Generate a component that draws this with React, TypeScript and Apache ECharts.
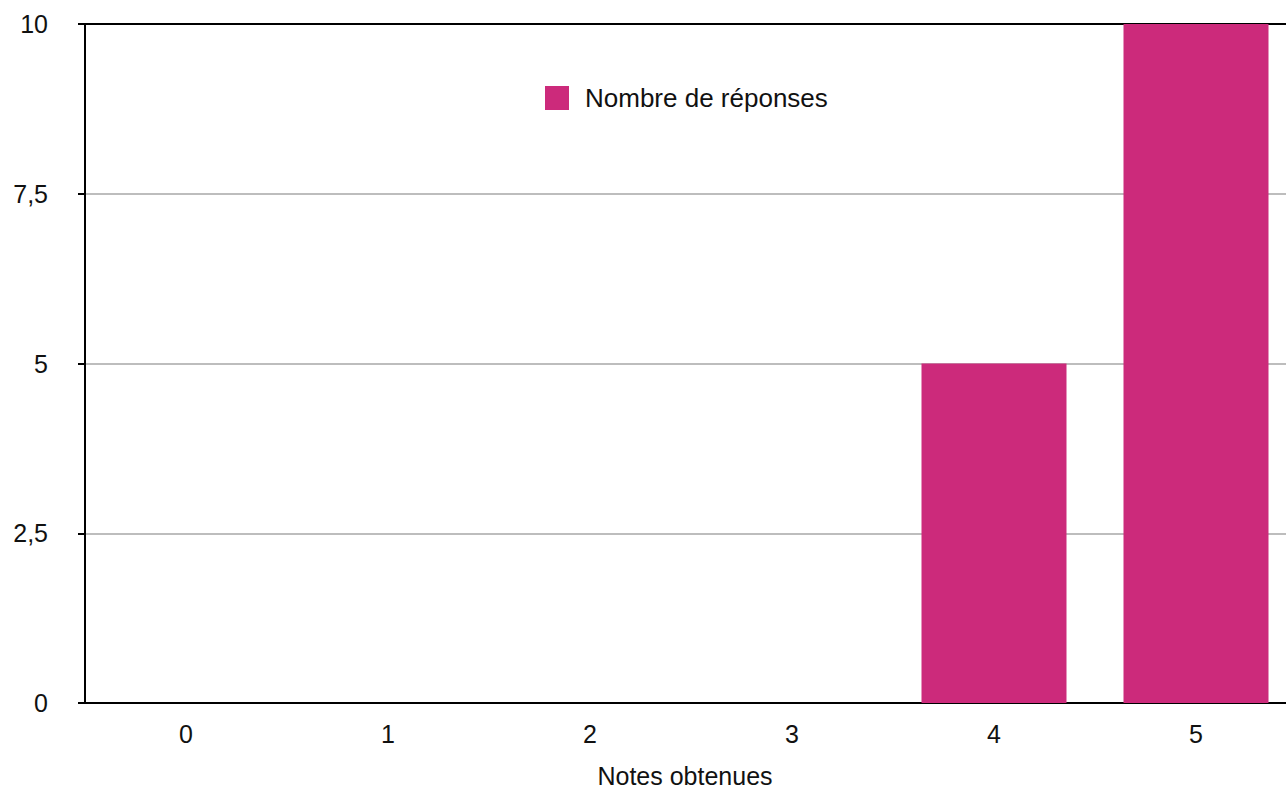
import React, { useEffect, useRef } from "react";
import * as echarts from "echarts";

const categories = ["0", "1", "2", "3", "4", "5"];
const responses = [0, 0, 0, 0, 5, 10];
const seriesName = "Nombre de réponses";
const xAxisName = "Notes obtenues";

const FONT = "'Liberation Sans', Arial, Helvetica, sans-serif";
const COLOR = "#CC2A7B";
const FS = 25;

export default function App() {
  const ref = useRef<HTMLDivElement>(null);
  useEffect(() => {
    if (!ref.current) return;
    const chart = echarts.init(ref.current, undefined, { renderer: "svg" });
    chart.setOption({
      animation: false,
      backgroundColor: "#ffffff",
      textStyle: { fontFamily: FONT },
      grid: {
        left: 85,
        width: 1212,
        top: 24,
        height: 679,
        containLabel: false,
        outerBoundsMode: "none",
      },
      legend: {
        left: 545,
        top: 85,
        padding: 0,
        itemWidth: 24,
        itemHeight: 24,
        icon: "rect",
        data: [seriesName],
        textStyle: { fontSize: 26, color: "#111", fontFamily: FONT, padding: [0, 0, 0, 11] },
      },
      xAxis: [
        {
          type: "category",
          data: categories,
          position: "bottom",
          name: xAxisName,
          nameLocation: "middle",
          nameGap: 64,
          nameTextStyle: {
            fontSize: FS,
            color: "#111",
            fontFamily: FONT,
            lineHeight: 18,
            padding: [0, 12, 0, 0],
          },
          axisLine: { show: true, lineStyle: { color: "#000", width: 2 } },
          axisTick: { show: false },
          axisLabel: { fontSize: FS, color: "#111", margin: 18, fontFamily: FONT },
          splitLine: { show: false },
        },
        {
          type: "category",
          data: categories,
          position: "top",
          axisLine: { show: true, lineStyle: { color: "#000", width: 2 } },
          axisTick: { show: false },
          axisLabel: { show: false },
          splitLine: { show: false },
        },
      ],
      yAxis: {
        type: "value",
        min: 0,
        max: 10,
        interval: 2.5,
        axisLine: { show: true, lineStyle: { color: "#000", width: 2 } },
        axisTick: { show: true, length: 7, lineStyle: { color: "#000", width: 2 } },
        axisLabel: {
          fontSize: FS,
          color: "#111",
          margin: 37,
          fontFamily: FONT,
          formatter: (v: number) => String(v).replace(".", ","),
        },
        splitLine: { show: true, lineStyle: { color: "#bdbdbd", width: 2 } },
      },
      series: [
        {
          name: seriesName,
          type: "bar",
          data: responses,
          barWidth: 145,
          itemStyle: { color: COLOR },
        },
      ],
    });
    return () => chart.dispose();
  }, []);
  return (
    <div
      ref={ref}
      style={{ position: "fixed", left: 0, top: 0, width: 1286, height: 789, background: "#fff" }}
    />
  );
}
